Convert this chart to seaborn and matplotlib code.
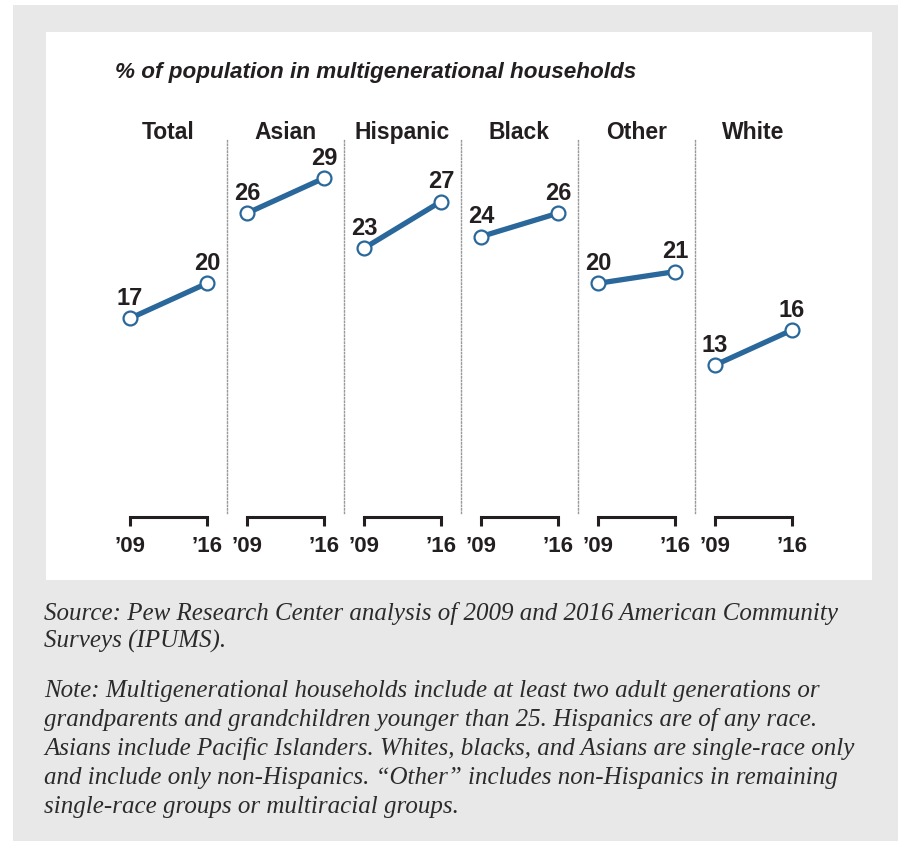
import matplotlib
matplotlib.use("Agg")
import matplotlib.pyplot as plt
import pandas as pd
import seaborn as sns
from matplotlib.patches import Rectangle

# Data
groups = ["Total", "Asian", "Hispanic", "Black", "Other", "White"]
years = ["\u201909", "\u201916"]
share_2009 = [17, 26, 23, 24, 20, 13]
share_2016 = [20, 29, 27, 26, 21, 16]

title = "% of population in multigenerational households"
footnote_lines = [
    "Source: Pew Research Center analysis of 2009 and 2016 American Community",
    "Surveys (IPUMS).",
    "Note: Multigenerational households include at least two adult generations or",
    "grandparents and grandchildren younger than 25. Hispanics are of any race.",
    "Asians include Pacific Islanders. Whites, blacks, and Asians are single-race only",
    "and include only non-Hispanics. \u201cOther\u201d includes non-Hispanics in remaining",
    "single-race groups or multiracial groups.",
]
footnote_baselines = [620, 648, 697, 726, 755, 784, 813]

rows = []
for g, a, b in zip(groups, share_2009, share_2016):
    rows.append({"group": g, "pos": 0, "value": a})
    rows.append({"group": g, "pos": 1, "value": b})
df = pd.DataFrame(rows)

blue = "#2a679a"
dark = "#231f20"
W, H = 898, 841

sns.set_style("white")
plt.rcParams["font.family"] = ["Liberation Sans", "DejaVu Sans"]

fig = plt.figure(figsize=(W / 100, H / 100), dpi=100, facecolor="white")


def fx(x):
    return x / W


def fy(y):
    return 1 - y / H


# backgrounds
fig.patches.append(Rectangle((fx(13), 0), 1 - fx(13), fy(5), transform=fig.transFigure,
                             facecolor="#e8e8e8", edgecolor="none", zorder=-2))
fig.patches.append(Rectangle((fx(46), fy(580)), fx(872) - fx(46), fy(32) - fy(580),
                             transform=fig.transFigure, facecolor="white",
                             edgecolor="none", zorder=-1))

fig.text(fx(115), fy(78), title, fontsize=16.2, fontweight="bold", style="italic",
         color=dark, va="baseline", ha="left")

panel_w = 117
left0 = 110
ax_bottom, ax_top = 517, 139

for i, g in enumerate(groups):
    ax = fig.add_axes([fx(left0 + i * panel_w), fy(ax_bottom),
                       panel_w / W, (ax_bottom - ax_top) / H])
    ax.set_facecolor("none")
    sub = df[df["group"] == g]
    sns.lineplot(data=sub, x="pos", y="value", ax=ax, color=blue, linewidth=3.8,
                 marker="o", markersize=10, markerfacecolor="white",
                 markeredgecolor=blue, markeredgewidth=1.6, clip_on=False)
    for _, r in sub.iterrows():
        ax.annotate(f"{r['value']:.0f}", (r["pos"], r["value"]), xytext=(0, 6),
                    textcoords="offset points", ha="center", va="bottom",
                    fontsize=17, fontweight="bold", color=dark)
    ax.set_xlim(-0.26, 1.26)
    ax.set_ylim(0, 32.35)
    ax.set_xlabel("")
    ax.set_ylabel("")
    ax.set_yticks([])
    ax.set_xticks([0, 1], years)
    ax.tick_params(axis="x", bottom=True, direction="out", length=6.5, width=2.2,
                   color=dark, pad=7.5, labelsize=16, labelcolor=dark)
    for lab in ax.get_xticklabels():
        lab.set_fontweight("bold")
    for s in ["top", "left"]:
        ax.spines[s].set_visible(False)
    ax.spines["bottom"].set_bounds(0, 1)
    ax.spines["bottom"].set_linewidth(2.2)
    ax.spines["bottom"].set_color(dark)
    ax.spines["bottom"].set_capstyle("projecting")
    if i < len(groups) - 1:
        ax.spines["right"].set_linestyle((0, (1, 1.5)))
        ax.spines["right"].set_color("#999999")
        ax.spines["right"].set_linewidth(1)
        ax.spines["right"].set_bounds(0.3, 32.35)
    else:
        ax.spines["right"].set_visible(False)
    ax.text(0.5, 1.0, g, transform=ax.transAxes, ha="center", va="baseline",
            fontsize=16.5, fontweight="bold", color=dark)

for line, yb in zip(footnote_lines, footnote_baselines):
    fig.text(fx(44), fy(yb), line, fontsize=18, style="italic",
             family="Liberation Serif", color="#2b2b2b", va="baseline", ha="left")

fig.savefig("out.png", dpi=100, facecolor=fig.get_facecolor())
